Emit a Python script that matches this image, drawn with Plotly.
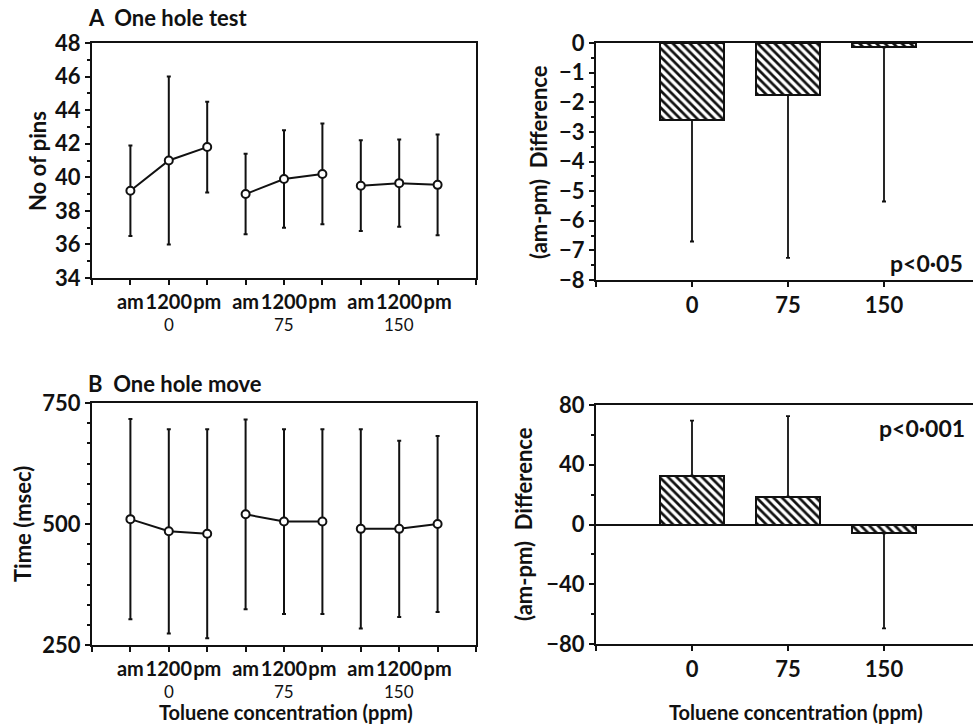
import plotly.graph_objects as go

W, H = 973, 725

# ---------------- data ----------------
sessions = ['am', '1200', 'pm']
concentrations = ['0', '75', '150']

pins_mean = [39.2, 41.0, 41.8, 39.0, 39.9, 40.2, 39.5, 39.65, 39.55]
pins_sd = [2.7, 5.0, 2.7, 2.4, 2.9, 3.0, 2.7, 2.6, 3.0]

pins_diff = [-2.6, -1.75, -0.15]
pins_diff_sd = [4.1, 5.5, 5.2]

move_mean = [510, 485, 480, 520, 505, 505, 490, 490, 500]
move_sd = [207, 211, 216, 196, 191, 191, 206, 182, 182]

move_diff = [32.7, 18.6, -5.9]
move_diff_sd = [36.8, 54.0, 63.7]

panel_titles = ['A\u00a0 One hole test', 'B\u00a0 One hole move']
p_texts = ['p<0\u00b705', 'p<0\u00b7001']
ylabels = ['No of pins', '(am-pm)\u00a0 Difference', 'Time (msec)', '(am-pm)\u00a0 Difference']
xlabel = 'Toluene concentration (ppm)'

FONT = 'Lato'
FS = 22
INK = '#111111'


def fx(px):
    return px / W


def fy(py):
    return 1 - py / H


fig = go.Figure()

n_s = len(sessions)
pos = list(range(1, n_s * len(concentrations) + 1))

# ---------------- line panels (left) ----------------
for means, sds, xa, ya in [(pins_mean, pins_sd, 'x', 'y'), (move_mean, move_sd, 'x3', 'y3')]:
    for g in range(len(concentrations)):
        sl = slice(g * n_s, (g + 1) * n_s)
        fig.add_trace(go.Scatter(
            x=pos[sl], y=means[sl], xaxis=xa, yaxis=ya,
            mode='lines+markers',
            line=dict(color=INK, width=2),
            marker=dict(symbol='circle', size=8, color='white', line=dict(color=INK, width=2)),
            error_y=dict(type='data', array=sds[sl], visible=True, color=INK, thickness=2, width=2),
            showlegend=False, cliponaxis=False))

# ---------------- bar panels (right) ----------------
cpos = list(range(1, len(concentrations) + 1))
for vals, sds, xa, ya in [(pins_diff, pins_diff_sd, 'x2', 'y2'), (move_diff, move_diff_sd, 'x4', 'y4')]:
    up = [s if v > 0 else 0 for v, s in zip(vals, sds)]
    down = [s if v < 0 else 0 for v, s in zip(vals, sds)]
    fig.add_trace(go.Bar(
        x=cpos, y=vals, xaxis=xa, yaxis=ya, width=0.66,
        marker=dict(color='white', line=dict(color=INK, width=2),
                    pattern=dict(shape='\\', fgcolor=INK, bgcolor='white', size=6, solidity=0.45)),
        error_y=dict(type='data', symmetric=False, array=up, arrayminus=down,
                     visible=True, color=INK, thickness=1.8, width=2),
        showlegend=False, cliponaxis=False))

tickfont = dict(family=FONT, size=FS, color=INK, weight='bold')

common_axis = dict(showgrid=False, showline=True, linecolor=INK, linewidth=2,
                   ticks='outside', ticklen=5, tickwidth=2, tickcolor=INK, tickangle=0,
                   tickfont=tickfont, zeroline=False, fixedrange=True, automargin=False)

left_ticktext = [''] + sessions * len(concentrations) + ['']
left_tickvals = list(range(0, len(pos) + 2))
left_tickfont = dict(family=FONT, size=FS - 2, color=INK, weight='bold')

fig.update_layout(
    template='none',
    width=W, height=H,
    margin=dict(l=0, r=0, t=0, b=0, pad=0),
    paper_bgcolor='white', plot_bgcolor='white',
    font=dict(family=FONT, size=FS, color=INK, weight='bold'),
    bargap=0, showlegend=False,
    # top-left
    xaxis=dict(common_axis, domain=[fx(92), fx(476)], range=[0, len(pos) + 1],
               tickvals=left_tickvals, ticktext=left_ticktext, mirror=True, anchor='y',
               tickfont=left_tickfont, ticklabelstandoff=0),
    yaxis=dict(common_axis, domain=[fy(278), fy(43)], range=[34, 48], dtick=2, mirror=True,
               anchor='x', minor=dict(dtick=1, ticklen=3, tickwidth=1.5, tickcolor=INK, ticks='outside')),
    # top-right
    xaxis2=dict(common_axis, domain=[fx(596), 1], range=[0, (W - 596) / 96.0],
                tickvals=[0] + cpos, ticktext=[''] + concentrations, mirror=True, anchor='y2'),
    yaxis2=dict(common_axis, domain=[fy(280), fy(43)], range=[-8, 0], dtick=1, anchor='x2',
                minor=dict(dtick=0.5, ticklen=3, tickwidth=1.5, tickcolor=INK, ticks='outside')),
    # bottom-left
    xaxis3=dict(common_axis, domain=[fx(92), fx(476)], range=[0, len(pos) + 1],
                tickvals=left_tickvals, ticktext=left_ticktext, mirror=True, anchor='y3',
                tickfont=left_tickfont, ticklabelstandoff=0),
    yaxis3=dict(common_axis, domain=[fy(645), fy(403)], range=[250, 750], dtick=250, mirror=True,
                anchor='x3', minor=dict(tick0=250, dtick=250 / 6, ticklen=3, tickwidth=1.5,
                                        tickcolor=INK, ticks='outside')),
    # bottom-right
    xaxis4=dict(common_axis, domain=[fx(596), 1], range=[0, (W - 596) / 96.0],
                tickvals=[0] + cpos, ticktext=[''] + concentrations, mirror=True, anchor='y4'),
    yaxis4=dict(common_axis, domain=[fy(644), fy(405)], range=[-80, 80], dtick=40, anchor='x4',
                zeroline=True, zerolinecolor=INK, zerolinewidth=1.5,
                minor=dict(dtick=20, ticklen=3, tickwidth=1.5, tickcolor=INK, ticks='outside')),
)

ann = []
# panel titles
ann.append(dict(text=panel_titles[0], x=fx(86), y=fy(17), xref='paper', yref='paper',
                xanchor='left', yanchor='middle', showarrow=False, font=dict(size=FS)))
ann.append(dict(text=panel_titles[1], x=fx(86), y=fy(383), xref='paper', yref='paper',
                xanchor='left', yanchor='middle', showarrow=False, font=dict(size=FS)))
# group labels under left panels
for xa, ypx in [('x', 313), ('x3', 680)]:
    for g, c in enumerate(concentrations):
        ann.append(dict(text=c, x=pos[g * n_s + 1], y=fy(ypx), xref=xa, yref='paper',
                        xanchor='center', yanchor='top', showarrow=False, borderpad=0,
                        font=dict(size=FS - 5, weight='normal')))
# y-axis titles
for t, xpx, ypx in [(ylabels[0], 37, 161), (ylabels[1], 539, 162),
                    (ylabels[2], 22, 524), (ylabels[3], 523, 524)]:
    ann.append(dict(text=t, x=fx(xpx), y=fy(ypx), xref='paper', yref='paper', textangle=-90,
                    xanchor='center', yanchor='middle', showarrow=False, font=dict(size=FS)))
# x-axis titles
for xpx in [286, 796]:
    ann.append(dict(text=xlabel, x=fx(xpx), y=0, xref='paper', yref='paper',
                    xanchor='center', yanchor='bottom', showarrow=False, borderpad=0,
                    font=dict(size=FS - 2)))
# p-values
ann.append(dict(text=p_texts[0], x=fx(965), y=fy(263), xref='paper', yref='paper',
                xanchor='right', yanchor='middle', showarrow=False, font=dict(size=FS + 1)))
ann.append(dict(text=p_texts[1], x=fx(967), y=fy(428), xref='paper', yref='paper',
                xanchor='right', yanchor='middle', showarrow=False, font=dict(size=FS + 1)))

fig.update_layout(annotations=ann)

fig.write_html('out.html', config={'displayModeBar': False},
               post_script="document.body.style.margin='0px';document.body.style.overflow='hidden';")
